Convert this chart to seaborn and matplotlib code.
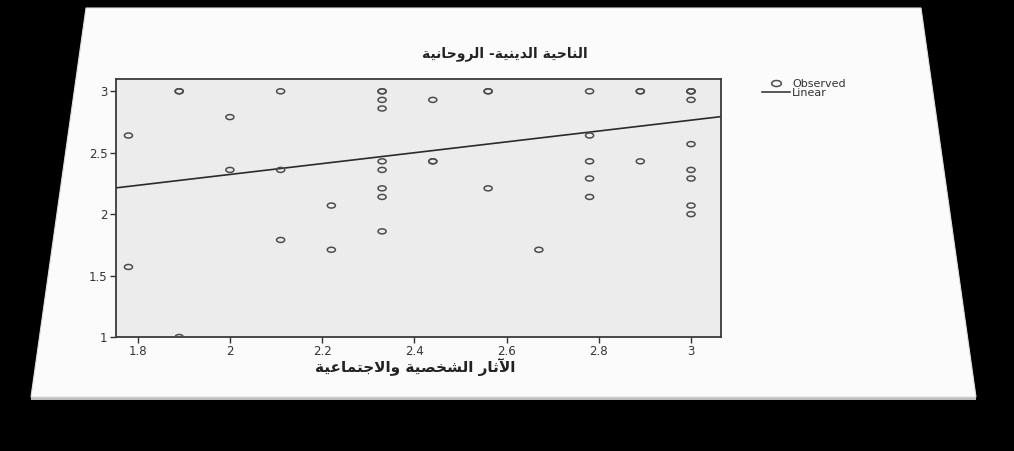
import matplotlib
matplotlib.use("Agg")
import matplotlib.pyplot as plt
import seaborn as sns
from matplotlib.patches import Polygon
from matplotlib.path import Path
from matplotlib.transforms import Affine2D

# scatter of two survey scales (x: personal/social effects, y: religious/spiritual side)
social_personal = [
    1.78, 1.78,
    1.89, 1.89, 1.89,
    2.00, 2.00,
    2.11, 2.11, 2.11,
    2.22, 2.22,
    2.33, 2.33, 2.33, 2.33, 2.33, 2.33, 2.33, 2.33, 2.33,
    2.44, 2.44, 2.44,
    2.56, 2.56, 2.56,
    2.67,
    2.78, 2.78, 2.78, 2.78, 2.78,
    2.89, 2.89, 2.89,
    3.00, 3.00, 3.00, 3.00, 3.00, 3.00, 3.00, 3.00, 3.00,
]
religious_spiritual = [
    2.64, 1.57,
    3.00, 3.00, 1.00,
    2.79, 2.36,
    3.00, 2.36, 1.79,
    2.07, 1.71,
    3.00, 3.00, 2.93, 2.86, 2.43, 2.36, 2.21, 2.14, 1.86,
    2.93, 2.43, 2.43,
    3.00, 3.00, 2.21,
    1.71,
    3.00, 2.64, 2.43, 2.29, 2.14,
    3.00, 3.00, 2.43,
    3.00, 3.00, 3.00, 2.93, 2.57, 2.36, 2.29, 2.07, 2.00,
]

# fitted linear line
fit_intercept = 1.439
fit_slope = 0.442

title_text = "الناحية الدينية- الروحانية"
xlabel_text = "الآثار الشخصية والاجتماعية"
y_ticks = [1, 1.5, 2, 2.5, 3]
y_tick_labels = ["1", "1.5", "2", "2.5", "3"]
x_ticks = [1.8, 2.0, 2.2, 2.4, 2.6, 2.8, 3.0]
x_tick_labels = ["1.8", "2", "2.2", "2.4", "2.6", "2.8", "3"]
legend_labels = ["Observed", "Linear"]

# matplotlib has no arabic shaping, so map letters to presentation forms
ARABIC_FORMS = {
    'ا': ('\uFE8D', '\uFE8E'),
    'آ': ('\uFE81', '\uFE82'),
    'ة': ('\uFE93', '\uFE94'),
    'د': ('\uFEA9', '\uFEAA'),
    'ر': ('\uFEAD', '\uFEAE'),
    'و': ('\uFEED', '\uFEEE'),
    'لا': ('\uFEFB', '\uFEFC'),
    'لآ': ('\uFEF5', '\uFEF6'),
    'ت': ('\uFE95', '\uFE96', '\uFE97', '\uFE98'),
    'ث': ('\uFE99', '\uFE9A', '\uFE9B', '\uFE9C'),
    'ج': ('\uFE9D', '\uFE9E', '\uFE9F', '\uFEA0'),
    'ح': ('\uFEA1', '\uFEA2', '\uFEA3', '\uFEA4'),
    'خ': ('\uFEA5', '\uFEA6', '\uFEA7', '\uFEA8'),
    'ش': ('\uFEB5', '\uFEB6', '\uFEB7', '\uFEB8'),
    'ص': ('\uFEB9', '\uFEBA', '\uFEBB', '\uFEBC'),
    'ع': ('\uFEC9', '\uFECA', '\uFECB', '\uFECC'),
    'ل': ('\uFEDD', '\uFEDE', '\uFEDF', '\uFEE0'),
    'م': ('\uFEE1', '\uFEE2', '\uFEE3', '\uFEE4'),
    'ن': ('\uFEE5', '\uFEE6', '\uFEE7', '\uFEE8'),
    'ي': ('\uFEF1', '\uFEF2', '\uFEF3', '\uFEF4'),
}


def shape_arabic(text):
    units = []
    i = 0
    while i < len(text):
        if text[i] == 'ل' and i + 1 < len(text) and text[i + 1] in 'اآ':
            units.append(text[i:i + 2])
            i += 2
        else:
            units.append(text[i])
            i += 1
    out = []
    for k, u in enumerate(units):
        forms = ARABIC_FORMS.get(u)
        if forms is None:
            out.append(u)
            continue
        prev = units[k - 1] if k > 0 else None
        nxt = units[k + 1] if k + 1 < len(units) else None
        joins_prev = prev in ARABIC_FORMS and len(ARABIC_FORMS[prev]) == 4
        joins_next = len(forms) == 4 and nxt in ARABIC_FORMS
        if joins_prev and joins_next:
            out.append(forms[3])
        elif joins_prev:
            out.append(forms[1])
        elif joins_next:
            out.append(forms[2])
        else:
            out.append(forms[0])
    return ''.join(reversed(out))


plt.rcParams['font.family'] = ['DejaVu Sans']

W, H = 1014, 451
fig = plt.figure(figsize=(W / 100, H / 100), dpi=100, facecolor='black')


def fx(px, py):
    return (px / W, 1 - py / H)


# white sheet on black, kept behind the axes
fig.patches.append(Polygon([fx(31, 400), fx(976, 400), fx(976, 397), fx(31, 397)],
                           closed=True, transform=fig.transFigure,
                           facecolor='#bdbdbd', edgecolor='none', zorder=-10))
fig.patches.append(Polygon([fx(86, 8), fx(921, 8), fx(976, 397), fx(31, 397)],
                           closed=True, transform=fig.transFigure,
                           facecolor='#fbfbfb', edgecolor='#e0e0e0', lw=0.8, zorder=-10))

left, right, top, bottom = 116, 721, 79, 337
ax = fig.add_axes([left / W, 1 - bottom / H, (right - left) / W, (bottom - top) / H])
ax.set_zorder(5)
ax.set_facecolor('#ececec')

ellipse = Path.unit_circle().transformed(Affine2D().scale(1.0, 0.62))
sns.scatterplot(x=social_personal, y=religious_spiritual, ax=ax,
                marker=ellipse, s=34, color='#4d4d4d', facecolor='none',
                edgecolor='#4d4d4d', linewidth=1.1, zorder=3)
ax.axline((0, fit_intercept), slope=fit_slope, color='#2b2b2b', lw=1.2, zorder=2)

ax.set_xlim(1.753, 3.065)
ax.set_ylim(1.0, 3.1)
ax.set_xticks(x_ticks)
ax.set_xticklabels(x_tick_labels)
ax.set_yticks(y_ticks)
ax.set_yticklabels(y_tick_labels)
ax.tick_params(length=4, width=1, color='#333333', labelsize=8.5, labelcolor='#333333', pad=2)

for sp in ax.spines.values():
    sp.set_color('#3a3a3a')
    sp.set_linewidth(1.3)

ax.set_xlabel(shape_arabic(xlabel_text), weight='bold', fontsize=11, color='#222222')
ax.xaxis.set_label_coords((415 - left) / (right - left), (bottom - 358) / (bottom - top))
ax.set_title(shape_arabic(title_text), weight='bold', fontsize=10, color='#222222',
             x=(505 - left) / (right - left), y=(bottom - 57) / (bottom - top), pad=0)

marker_handle = plt.Line2D([], [], marker=ellipse, ls='none', markersize=7,
                           markerfacecolor='none', markeredgecolor='#4d4d4d', mew=1.1)
line_handle = plt.Line2D([], [], color='#2b2b2b', lw=1.1)
fig.legend([marker_handle, line_handle], legend_labels, loc='upper left',
           bbox_to_anchor=fx(762, 79), frameon=False, fontsize=8,
           handlelength=2.5, handletextpad=0.2, labelspacing=-0.1,
           borderpad=0, borderaxespad=0, labelcolor='#333333')

fig.savefig('out.png', dpi=100, facecolor='black')
